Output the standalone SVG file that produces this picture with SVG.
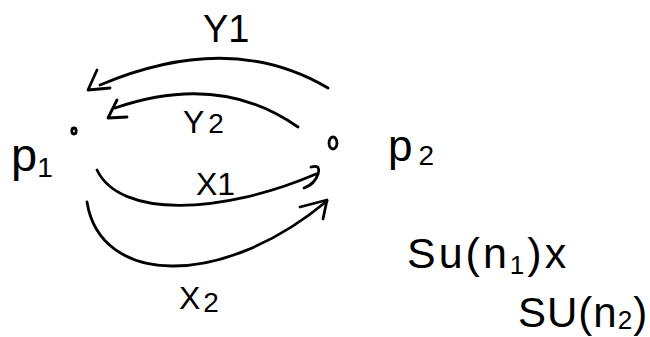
<svg xmlns="http://www.w3.org/2000/svg" width="650" height="337" viewBox="0 0 650 337">
<style>
.ln{fill:none;stroke:#000;stroke-width:2.8;stroke-linecap:round;stroke-linejoin:round}
.t{font-family:"Liberation Sans","DejaVu Sans",sans-serif;fill:#000}
</style>
<rect width="650" height="337" fill="#fff"/>
<g id="node-p1">
<ellipse cx="74" cy="131" rx="2.2" ry="3" class="ln" stroke-width="2"/>
<text class="t" x="11" y="171" font-size="47">p<tspan font-size="28" dy="6">1</tspan></text>
</g>
<g id="node-p2">
<ellipse cx="333" cy="143" rx="4" ry="6" class="ln" stroke-width="2.2"/>
<text class="t" x="388" y="161" font-size="44">p<tspan font-size="28" dy="4" dx="6">2</tspan></text>
</g>
<g id="connectors">
<path class="ln" d="M328,88 Q230,30 100,85"/>
<polyline class="ln" points="97,70 88,90 110,88"/>
<path class="ln" d="M298,127 Q220,72 115,108"/>
<polyline class="ln" points="117,100 108,118 127,117"/>
<path class="ln" d="M97,170 C120,218 220,215 316,174"/>
<path class="ln" d="M311,167 Q321,164 318,174 Q315,184 304,188"/>
<path class="ln" d="M87,202 C100,285 220,290 327,201"/>
<polyline class="ln" points="300,207 327,200 323,219"/>
<text class="t" x="203" y="42" font-size="38">Y1</text>
<text class="t" x="183" y="133" font-size="32">Y<tspan font-size="28" dx="4">2</tspan></text>
<text class="t" x="196" y="195" font-size="32">X1</text>
<text class="t" x="179" y="309" font-size="32">X<tspan font-size="28" dx="3" dy="3">2</tspan></text>
</g>
<g id="group-label">
<text class="t" x="407" y="268" font-size="43" letter-spacing="3">Su(n<tspan font-size="26" dy="6">1</tspan><tspan dy="-6">)x</tspan></text>
<text class="t" x="518" y="327" font-size="42" letter-spacing="1">SU(n<tspan font-size="26" dy="2">2</tspan><tspan dy="-2">)</tspan></text>
</g>
</svg>
